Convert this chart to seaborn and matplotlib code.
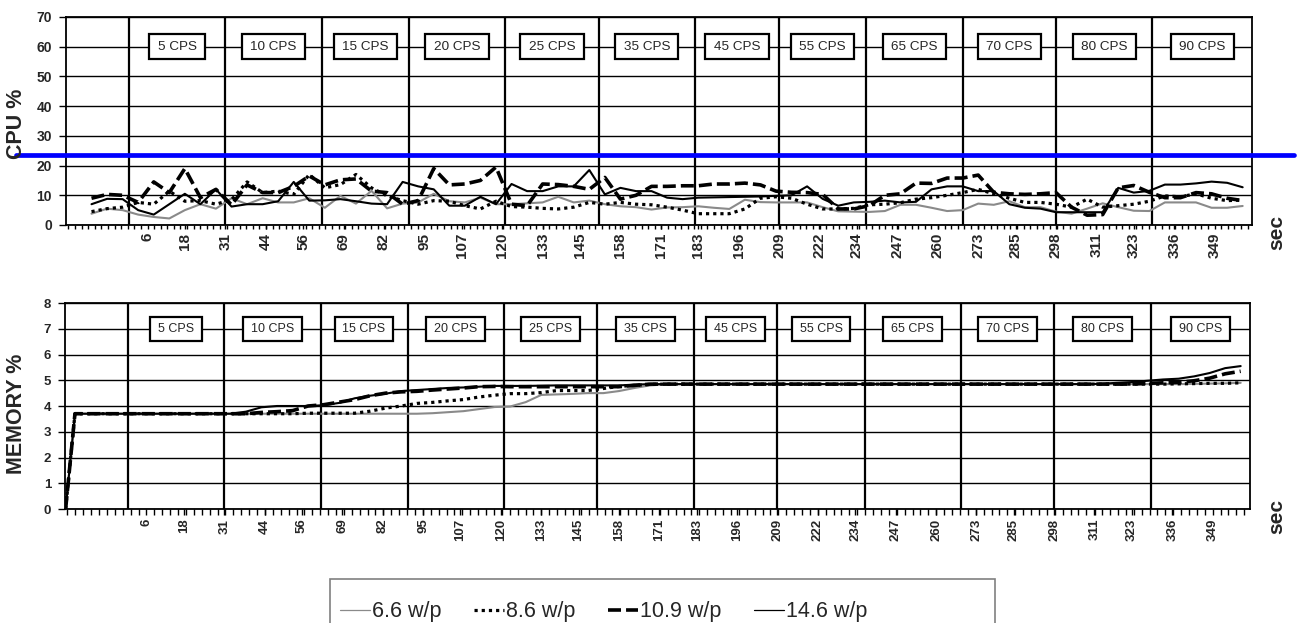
import numpy as np
import pandas as pd
import matplotlib
matplotlib.use("Agg")
import matplotlib.pyplot as plt
import seaborn as sns
from matplotlib.lines import Line2D
from matplotlib.path import Path
from matplotlib.patches import Rectangle
from matplotlib.ticker import FixedLocator

# ---------------------------------------------------------------- data
loads = ["6.6 w/p", "8.6 w/p", "10.9 w/p", "14.6 w/p"]

# CPU samples, one every 5 s
cpu_sec = list(range(-12, 359, 5))
cpu_66 = [3.8, 5.5, 5.0, 3.5, 2.7, 2.2, 5.0, 7.0, 5.5, 9.0,
          7.0, 9.0, 7.6, 7.6, 9.0, 5.8, 9.8, 7.2, 11.5, 5.6,
          7.2, 7.6, 10.5, 8.0, 7.6, 9.2, 7.0, 7.0, 7.3, 7.6,
          9.5, 7.6, 8.2, 7.0, 6.3, 6.0, 5.2, 5.9, 6.0, 6.3,
          5.8, 5.4, 8.5, 7.7, 7.6, 7.6, 7.6, 6.0, 4.6, 4.5,
          4.4, 4.7, 6.8, 6.8, 5.8, 4.7, 5.0, 7.2, 6.8, 8.0,
          6.0, 6.0, 4.5, 3.8, 5.5, 7.3, 6.0, 4.8, 4.7, 7.6,
          7.6, 7.6, 5.8, 5.8, 6.4]
cpu_86 = [4.5, 5.5, 6.0, 7.6, 7.0, 11.4, 8.0, 8.2, 7.0, 8.5,
          14.5, 10.9, 11.4, 10.3, 17.0, 12.5, 13.6, 17.0, 12.5, 9.8,
          8.2, 7.0, 8.2, 8.0, 6.5, 5.4, 8.0, 6.2, 6.0, 5.6,
          5.4, 6.0, 7.6, 7.0, 7.6, 7.0, 6.8, 6.0, 5.0, 3.8,
          3.8, 3.8, 5.4, 9.0, 9.5, 9.0, 7.0, 5.4, 5.4, 5.6,
          6.8, 7.0, 7.5, 8.7, 9.2, 10.0, 10.9, 12.0, 10.5, 9.0,
          7.6, 7.6, 7.0, 6.0, 8.7, 6.0, 6.5, 7.0, 8.0, 9.8,
          9.5, 10.5, 9.0, 8.2, 8.4]
cpu_109 = [9.0, 10.3, 10.0, 7.6, 14.5, 10.9, 19.0, 9.2, 12.0, 6.8,
           13.5, 10.9, 10.9, 13.0, 16.5, 13.5, 15.2, 15.5, 11.4, 10.9,
           7.0, 8.2, 19.0, 13.5, 13.8, 15.0, 19.5, 7.0, 6.5, 13.8,
           13.6, 13.0, 12.0, 16.0, 8.7, 10.0, 13.0, 13.0, 13.2, 13.2,
           13.8, 13.8, 14.1, 13.5, 11.4, 11.0, 10.9, 10.3, 5.4, 5.4,
           6.5, 10.0, 10.5, 14.1, 14.0, 15.8, 15.8, 16.8, 11.0, 10.5,
           10.3, 10.5, 10.9, 6.0, 3.3, 3.5, 12.5, 13.3, 11.0, 9.2,
           9.2, 10.9, 10.5, 9.0, 8.2]
cpu_146 = [7.0, 8.8, 8.7, 5.0, 3.5, 7.0, 10.5, 7.0, 12.0, 6.2,
           7.0, 7.0, 8.0, 14.5, 8.2, 8.3, 8.7, 8.0, 7.2, 7.0,
           14.5, 13.0, 12.0, 6.5, 6.5, 9.5, 7.0, 13.8, 11.4, 11.4,
           13.0, 13.0, 18.5, 10.3, 12.5, 11.4, 11.4, 9.2, 8.7, 9.2,
           9.3, 9.4, 9.5, 9.6, 9.8, 10.0, 13.0, 8.8, 6.5, 7.6,
           7.8, 8.2, 7.6, 7.8, 12.0, 13.0, 13.0, 11.4, 11.4, 7.0,
           5.8, 5.5, 4.3, 4.3, 4.3, 4.3, 12.5, 10.9, 11.5, 13.6,
           13.6, 14.0, 14.6, 14.2, 12.7]

# Memory samples: start-up, then one every 5 s
mem_sec = [-20, -17] + list(range(-12, 359, 5))
mem_66 = [0.0, 3.7,
          3.7, 3.7, 3.7, 3.7, 3.7, 3.7, 3.7, 3.7, 3.7, 3.7,
          3.7, 3.7, 3.7, 3.7, 3.7, 3.7, 3.7, 3.7, 3.7, 3.7,
          3.7, 3.7, 3.72, 3.76, 3.8, 3.88, 3.96, 3.98, 4.15, 4.43,
          4.45, 4.47, 4.5, 4.5, 4.58, 4.7, 4.8, 4.84, 4.85, 4.85,
          4.85, 4.85, 4.85, 4.85, 4.85, 4.85, 4.85, 4.85, 4.85, 4.85,
          4.85, 4.85, 4.85, 4.85, 4.85, 4.85, 4.85, 4.85, 4.85, 4.85,
          4.85, 4.85, 4.85, 4.85, 4.85, 4.85, 4.85, 4.85, 4.85, 4.85,
          4.85, 4.86, 4.87, 4.88, 4.9]
mem_86 = [0.0, 3.7,
          3.7, 3.7, 3.7, 3.7, 3.7, 3.7, 3.7, 3.7, 3.7, 3.7,
          3.7, 3.7, 3.7, 3.7, 3.72, 3.72, 3.72, 3.72, 3.8, 3.92,
          4.0, 4.1, 4.14, 4.2, 4.25, 4.35, 4.42, 4.48, 4.48, 4.52,
          4.6, 4.6, 4.6, 4.68, 4.76, 4.8, 4.84, 4.85, 4.85, 4.85,
          4.85, 4.85, 4.85, 4.85, 4.85, 4.85, 4.85, 4.85, 4.85, 4.85,
          4.85, 4.85, 4.85, 4.85, 4.85, 4.85, 4.85, 4.85, 4.85, 4.85,
          4.85, 4.85, 4.85, 4.85, 4.85, 4.85, 4.85, 4.85, 4.85, 4.85,
          4.86, 4.87, 4.88, 4.88, 4.9]
mem_109 = [0.0, 3.7,
           3.7, 3.7, 3.7, 3.7, 3.7, 3.7, 3.7, 3.7, 3.7, 3.7,
           3.7, 3.75, 3.78, 3.82, 4.0, 4.05, 4.15, 4.25, 4.4, 4.5,
           4.55, 4.57, 4.62, 4.66, 4.7, 4.75, 4.76, 4.75, 4.75, 4.75,
           4.75, 4.75, 4.75, 4.75, 4.75, 4.8, 4.85, 4.85, 4.85, 4.85,
           4.85, 4.85, 4.85, 4.85, 4.85, 4.85, 4.85, 4.85, 4.85, 4.85,
           4.85, 4.85, 4.85, 4.85, 4.85, 4.85, 4.85, 4.85, 4.85, 4.85,
           4.85, 4.85, 4.85, 4.85, 4.85, 4.85, 4.85, 4.85, 4.88, 4.9,
           4.92, 4.98, 5.08, 5.25, 5.35]
mem_146 = [0.0, 3.7,
           3.7, 3.7, 3.7, 3.7, 3.7, 3.7, 3.7, 3.7, 3.7, 3.7,
           3.78, 3.95, 4.0, 4.0, 4.0, 4.03, 4.12, 4.3, 4.4, 4.48,
           4.58, 4.62, 4.66, 4.7, 4.72, 4.75, 4.78, 4.78, 4.78, 4.79,
           4.8, 4.8, 4.8, 4.8, 4.8, 4.83, 4.85, 4.85, 4.85, 4.85,
           4.85, 4.85, 4.85, 4.85, 4.85, 4.85, 4.85, 4.85, 4.85, 4.85,
           4.85, 4.85, 4.85, 4.85, 4.85, 4.85, 4.85, 4.85, 4.85, 4.85,
           4.85, 4.85, 4.85, 4.85, 4.85, 4.86, 4.9, 4.93, 4.98, 5.03,
           5.06, 5.15, 5.28, 5.47, 5.55]

# Test phases (start second of each call rate)
phase_start = [0, 31, 62, 90, 121, 151, 182, 209, 237, 268, 298, 329]
phase_cps = ["5 CPS", "10 CPS", "15 CPS", "20 CPS", "25 CPS", "35 CPS",
             "45 CPS", "55 CPS", "65 CPS", "70 CPS", "80 CPS", "90 CPS"]

sec_ticks = [6, 18, 31, 44, 56, 69, 82, 95, 107, 120, 133, 145, 158, 171,
             183, 196, 209, 222, 234, 247, 260, 273, 285, 298, 311, 323,
             336, 349]

cpu_limit = 23.5

# ---------------------------------------------------------------- frames
cpu_df = pd.concat([
    pd.DataFrame({"sec": cpu_sec, "value": v, "load": name})
    for name, v in zip(loads, [cpu_66, cpu_86, cpu_109, cpu_146])
], ignore_index=True)
mem_df = pd.concat([
    pd.DataFrame({"sec": mem_sec, "value": v, "load": name})
    for name, v in zip(loads, [mem_66, mem_86, mem_109, mem_146])
], ignore_index=True)

# ---------------------------------------------------------------- style
sns.set_theme(style="white")
plt.rcParams["font.family"] = ["Liberation Sans", "DejaVu Sans"]

palette = {"6.6 w/p": "#8a8a8a", "8.6 w/p": "black",
           "10.9 w/p": "black", "14.6 w/p": "black"}
dashes = {"6.6 w/p": "", "8.6 w/p": (1, 1.25),
          "10.9 w/p": (3.6, 1.4), "14.6 w/p": ""}
sizes = {"6.6 w/p": 1.5, "8.6 w/p": 2.3, "10.9 w/p": 2.6, "14.6 w/p": 1.5}

X_LO, X_HI = -20.2, 361.0


def cps_box(x0, y0, width, height, mutation_size):
    """Rectangle with a wider horizontal than vertical margin."""
    px = 0.62 * mutation_size
    py = 0.50 * mutation_size
    xa, ya = x0 - px, y0 - py
    xb, yb = x0 + width + px, y0 + height + py
    return Path([(xa, ya), (xb, ya), (xb, yb), (xa, yb), (xa, ya)],
                closed=True)


def style_panel(ax, ymax, ystep, label_y, tick_fs, box_fs, tick_step,
                tick_len, ytick_fs):
    ax.set_xlim(X_LO, X_HI)
    ax.set_ylim(0, ymax)
    ax.set_yticks(np.arange(0, ymax + ystep / 2, ystep))
    ax.set_axisbelow(True)
    ax.yaxis.grid(True, color="black", lw=1.0)
    ax.xaxis.grid(False)
    for s in ax.spines.values():
        s.set_color("black")
        s.set_linewidth(1.3)
        s.set_visible(True)
    ax.set_xticks(sec_ticks)
    ax.set_xticklabels([str(t) for t in sec_ticks], rotation=90,
                       fontsize=tick_fs, fontweight="bold")
    ax.xaxis.set_minor_locator(
        FixedLocator(np.arange(sec_ticks[0] - 12 * tick_step, X_HI, tick_step)))
    ax.tick_params(axis="x", which="both", direction="out", length=tick_len,
                   width=1.0, color="black", bottom=True, pad=2.5)
    ax.tick_params(axis="y", direction="out", length=5, width=1.0,
                   color="black", left=True, pad=5)
    for lab in ax.get_yticklabels():
        lab.set_fontweight("bold")
        lab.set_fontsize(ytick_fs)
    ax.set_xlabel("")
    ax.set_ylabel("")
    # phase separators and call-rate labels
    ends = phase_start[1:] + [X_HI]
    for s, e, name in zip(phase_start, ends, phase_cps):
        ax.axvline(s, color="black", lw=1.6, zorder=1.5)
        ax.text((s + e) / 2, label_y, name, ha="center", va="center",
                fontsize=box_fs, zorder=6,
                bbox=dict(boxstyle=cps_box, fc="white", ec="black", lw=1.6))


fig = plt.figure(figsize=(13.02, 6.23), dpi=100)
ax_cpu = fig.add_axes([66 / 1302, 1 - 225 / 623, 1186 / 1302, 208 / 623])
ax_mem = fig.add_axes([65 / 1302, 1 - 509 / 623, 1185 / 1302, 206 / 623])

for ax, df in [(ax_cpu, cpu_df), (ax_mem, mem_df)]:
    sns.lineplot(data=df, x="sec", y="value", hue="load", style="load",
                 size="load", hue_order=loads, style_order=loads,
                 size_order=loads, palette=palette, dashes=dashes,
                 sizes=sizes, legend=False, estimator=None, ax=ax,
                 zorder=3)

style_panel(ax_cpu, 70, 10, 60, 11.0, 9.7, 12.7037 / 6, 3, 10.0)
style_panel(ax_mem, 8, 1, 7, 9.5, 9.0, 12.7037 / 5, 4.5, 9.5)

# CPU threshold line running across the panel
ax_cpu.axhline(cpu_limit, xmin=-0.042, xmax=1.035, color="#0000FF", lw=3.4,
               clip_on=False, zorder=10)

# axis titles
fig.text(17 / 1302, 1 - 124 / 623, "CPU %", rotation=90, ha="center",
         va="center", fontsize=15.5, fontweight="bold")
fig.text(17 / 1302, 1 - 414 / 623, "MEMORY %", rotation=90, ha="center",
         va="center", fontsize=15.5, fontweight="bold")
fig.text(1277 / 1302, 1 - 233 / 623, "sec", rotation=90, ha="center",
         va="center", fontsize=15, fontweight="bold")
fig.text(1277 / 1302, 1 - 517 / 623, "sec", rotation=90, ha="center",
         va="center", fontsize=15, fontweight="bold")

# legend
handles = [
    Line2D([], [], color="#8a8a8a", lw=0.9),
    Line2D([], [], color="black", lw=2.3, dashes=(1, 1.25)),
    Line2D([], [], color="black", lw=2.6, dashes=(3.6, 1.4)),
    Line2D([], [], color="black", lw=0.9),
]
fig.patches.append(Rectangle((330 / 1302, -0.1), 665 / 1302, 0.1 + 44 / 623,
                             transform=fig.transFigure, fill=False,
                             ec="#808080", lw=1.2))
fig.legend(handles, loads, loc="center left",
           bbox_to_anchor=(340 / 1302, 11 / 623), ncol=4, frameon=False,
           fontsize=15.5, handlelength=1.4, handletextpad=0.1,
           columnspacing=1.5, borderpad=0, borderaxespad=0)

fig.savefig("out.png", dpi=100)
